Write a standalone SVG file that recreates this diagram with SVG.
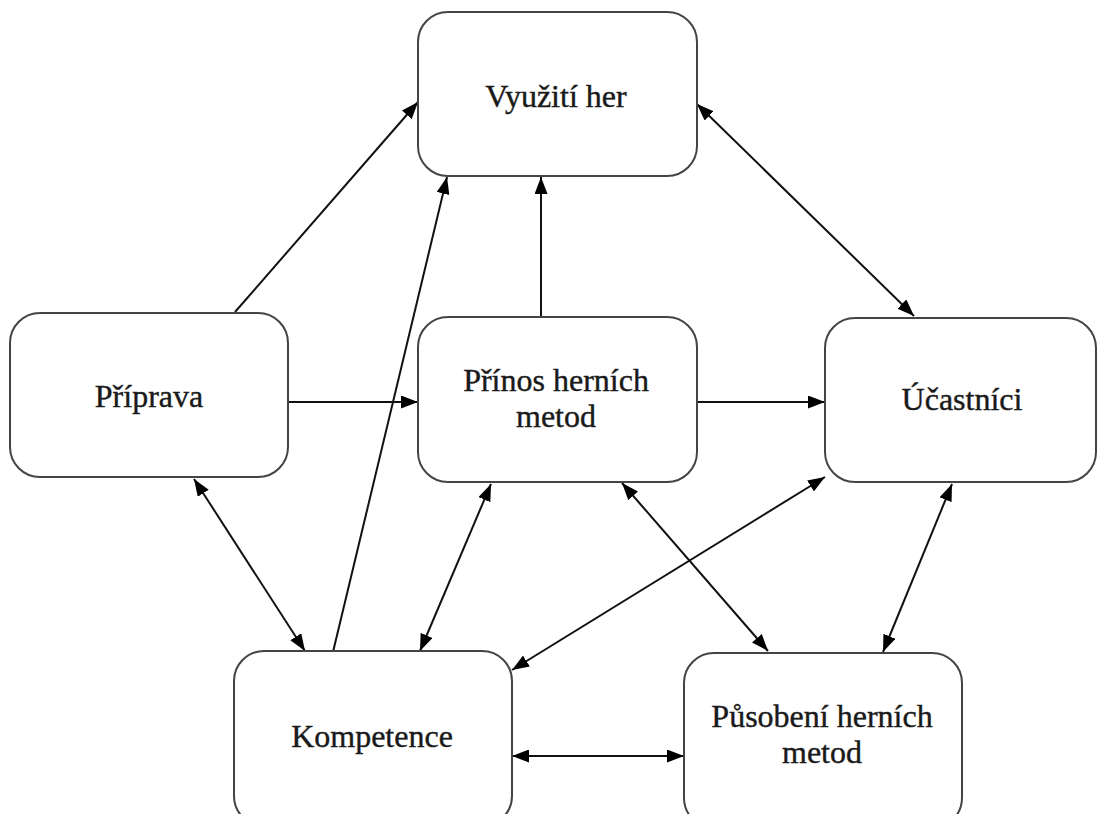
<svg xmlns="http://www.w3.org/2000/svg" width="1102" height="814" viewBox="0 0 1102 814">
<defs>
<marker id="ah" markerUnits="userSpaceOnUse" markerWidth="18" markerHeight="13" refX="17" refY="6.5" orient="auto-start-reverse">
<path d="M0,0 L17,6.5 L0,13 z" fill="#000"/>
</marker>
<style>
.box{fill:#fff;stroke:#444;stroke-width:2}
.lbl{font-size:32px;fill:#1a1a1a;stroke:#1a1a1a;stroke-width:0.4;text-anchor:middle}
.c{stroke:#111;stroke-width:2;fill:none}
.one{marker-end:url(#ah)}
.two{marker-start:url(#ah);marker-end:url(#ah)}
</style>
</defs>
<rect width="1102" height="814" fill="#fff"/>
<g id="connectors">
<line class="c one" x1="235" y1="312" x2="418" y2="102"/>
<line class="c one" x1="333" y1="652" x2="447" y2="177"/>
<line class="c one" x1="541" y1="318" x2="541" y2="177"/>
<line class="c two" x1="697" y1="104" x2="914" y2="316"/>
<line class="c one" x1="288" y1="402" x2="418" y2="402"/>
<line class="c one" x1="697" y1="402" x2="825" y2="402"/>
<line class="c two" x1="194" y1="479" x2="305" y2="651"/>
<line class="c two" x1="491" y1="484" x2="420" y2="651"/>
<line class="c two" x1="622" y1="483" x2="768" y2="651"/>
<line class="c two" x1="825" y1="477" x2="512" y2="670"/>
<line class="c two" x1="952" y1="484" x2="883" y2="652"/>
<line class="c two" x1="512" y1="756" x2="684" y2="756"/>
</g>
<g font-family="'Liberation Serif', 'Times New Roman', 'DejaVu Serif', serif">
<g id="vyuziti-her">
<rect class="box" x="418" y="12" width="279" height="164" rx="30"/>
<text class="lbl" x="556" y="107">Využití her</text>
</g>
<g id="priprava">
<rect class="box" x="10" y="313" width="278" height="164" rx="30"/>
<text class="lbl" x="149" y="407">Příprava</text>
</g>
<g id="prinos">
<rect class="box" x="418" y="317" width="279" height="165" rx="30"/>
<text class="lbl" x="556" y="391">Přínos herních</text>
<text class="lbl" x="556" y="427">metod</text>
</g>
<g id="ucastnici">
<rect class="box" x="825" y="318" width="271" height="164" rx="30"/>
<text class="lbl" x="962" y="410">Účastníci</text>
</g>
<g id="kompetence">
<rect class="box" x="234" y="651" width="278" height="175" rx="30"/>
<text class="lbl" x="372" y="747">Kompetence</text>
</g>
<g id="pusobeni">
<rect class="box" x="684" y="653" width="278" height="175" rx="30"/>
<text class="lbl" x="822" y="727">Působení herních</text>
<text class="lbl" x="822" y="763">metod</text>
</g>
</g>
</svg>
